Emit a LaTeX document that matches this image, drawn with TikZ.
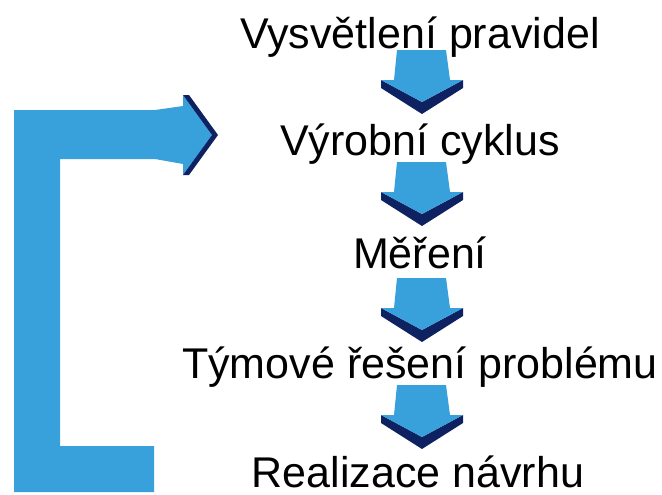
\documentclass[tikz,border=0pt]{standalone}
\usepackage{fontspec}
\setmainfont{Liberation Sans}
\definecolor{flowblue}{RGB}{56,160,218}
\definecolor{flownavy}{RGB}{14,34,98}
\tikzset{
  steptext/.style={anchor=base, inner sep=0pt, font=\fontsize{32.25pt}{38pt}\selectfont},
  % block arrow pointing down, origin at the middle of its top edge
  pics/downarrow/.style={code={
    \fill[flownavy] (-41,30) -- (0,52) -- (41,30) -- (41,38) -- (0,64) -- (-41,38) -- cycle;
    \fill[flowblue] (-25,0) -- (24,0) -- (28,30) -- (41,30) -- (0,52) -- (-41,30) -- (-28,30) -- cycle;
  }}
}
\begin{document}
\begin{tikzpicture}[x=0.75pt,y=-0.75pt]
\useasboundingbox (0,0) rectangle (662,494);

% steps
\node[steptext] (s1) at (420,48)  {Vysvětlení pravidel};
\node[steptext] (s2) at (420,155) {Výrobní cyklus};
\node[steptext] (s3) at (420,268) {Měření};
\node[steptext] (s4) at (420,378) {Týmové řešení problému};
\node[steptext] (s5) at (418,487) {Realizace návrhu};

% arrows between steps
\pic at (422,50)  {downarrow};
\pic at (422,162) {downarrow};
\pic at (422,278) {downarrow};
\pic at (422,385) {downarrow};

% loop back to the production cycle
\fill[flowblue] (14,110) -- (155,110) -- (183,106) -- (183,95) -- (212,135)
  -- (183,175) -- (183,164) -- (155,159) -- (60,159) -- (60,446)
  -- (154,446) -- (154,492) -- (14,492) -- cycle;
\fill[flownavy] (183,95) -- (189,95) -- (218,135) -- (189,175) -- (183,175)
  -- (212,135) -- cycle;
\end{tikzpicture}
\end{document}
